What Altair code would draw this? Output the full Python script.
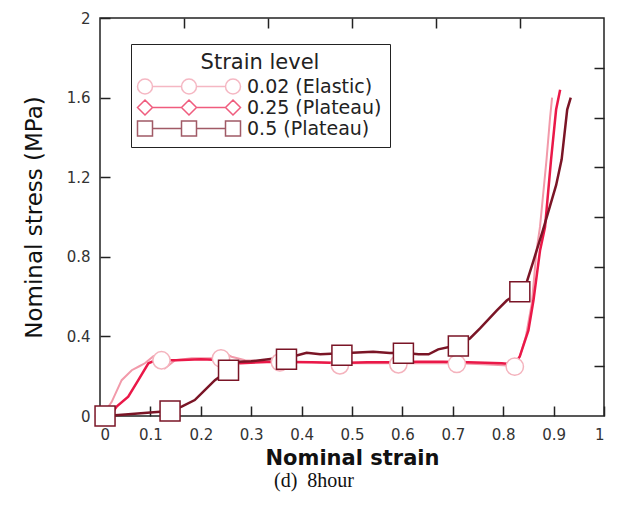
import altair as alt
import pandas as pd

# ---- data ----
series_names = ["0.02 (Elastic)", "0.25 (Plateau)", "0.5 (Plateau)"]

elastic_strain = [0.0, 0.012, 0.023, 0.043, 0.063, 0.078, 0.089, 0.106, 0.122, 0.129, 0.149,
                  0.182, 0.222, 0.241, 0.261, 0.288, 0.33, 0.38, 0.43, 0.476, 0.53, 0.592,
                  0.65, 0.708, 0.76, 0.80, 0.823, 0.833, 0.845, 0.857, 0.866, 0.873, 0.886,
                  0.893, 0.897]
elastic_stress = [0.0, 0.03, 0.07, 0.18, 0.23, 0.25, 0.265, 0.30, 0.28, 0.24, 0.28,
                  0.29, 0.29, 0.323, 0.298, 0.28, 0.275, 0.27, 0.27, 0.265, 0.265, 0.265,
                  0.265, 0.265, 0.26, 0.255, 0.25, 0.30, 0.40, 0.57, 0.83, 0.95, 1.29,
                  1.50, 1.60]

plateau25_strain = [0.02, 0.033, 0.056, 0.076, 0.096, 0.11, 0.15, 0.2, 0.25, 0.278, 0.344,
                    0.42, 0.476, 0.53, 0.575, 0.63, 0.68, 0.73, 0.797, 0.823, 0.833, 0.85,
                    0.86, 0.873, 0.883, 0.895, 0.905, 0.913]
plateau25_stress = [0.0, 0.047, 0.097, 0.18, 0.265, 0.28, 0.28, 0.285, 0.28, 0.265, 0.273,
                    0.27, 0.266, 0.27, 0.27, 0.273, 0.273, 0.27, 0.265, 0.26, 0.30, 0.43,
                    0.58, 0.83, 0.95, 1.29, 1.54, 1.64]

plateau5_strain = [0.01, 0.05, 0.1, 0.139, 0.162, 0.188, 0.208, 0.228, 0.255, 0.274, 0.3,
                   0.35, 0.37, 0.41, 0.437, 0.48, 0.542, 0.575, 0.602, 0.632, 0.652, 0.671,
                   0.711, 0.734, 0.754, 0.787, 0.807, 0.833, 0.847, 0.86, 0.879, 0.905,
                   0.916, 0.927, 0.934]
plateau5_stress = [0.0, 0.008, 0.018, 0.025, 0.047, 0.08, 0.13, 0.18, 0.23, 0.273, 0.275,
                   0.29, 0.29, 0.318, 0.31, 0.315, 0.323, 0.316, 0.318, 0.31, 0.31, 0.335,
                   0.357, 0.39, 0.44, 0.53, 0.58, 0.625, 0.675, 0.78, 0.935, 1.16,
                   1.29, 1.54, 1.60]

# marker positions
circle_strain = [0.008, 0.122, 0.24, 0.357, 0.476, 0.592, 0.708, 0.823]
circle_stress = [0.0, 0.28, 0.29, 0.27, 0.255, 0.26, 0.262, 0.248]
diamond_strain = [0.008, 0.122, 0.24, 0.357, 0.476, 0.592, 0.708, 0.823]
diamond_stress = [0.0, 0.28, 0.29, 0.27, 0.255, 0.26, 0.262, 0.248]
square_strain = [0.01, 0.139, 0.255, 0.37, 0.48, 0.602, 0.711, 0.833]
square_stress = [0.0, 0.025, 0.23, 0.285, 0.305, 0.315, 0.352, 0.625]

x_label_ticks = [0, 0.1, 0.2, 0.3, 0.4, 0.5, 0.6, 0.7, 0.8, 0.9, 1]
y_label_ticks = [0, 0.4, 0.8, 1.2, 1.6, 2]
x_top_ticks = [1 / 6, 2 / 6, 3 / 6, 4 / 6, 5 / 6]
y_right_ticks = [0.25, 0.5, 0.75, 1.0, 1.25, 1.5, 1.75]

# ---- styling ----
PINK = "#F29AAA"
PINK_MK = "#F4B3BD"
RED = "#EA1848"
DARK = "#7A1526"
FONT = "DejaVu Sans"
TICK = 10

def line_df(xs, ys):
    return pd.DataFrame({"strain": xs, "stress": ys, "i": list(range(len(xs)))})

xs = alt.Scale(domain=[0, 1], nice=False)
ys = alt.Scale(domain=[0, 2], nice=False)

def no_axis_x():
    return alt.X("strain:Q", scale=xs, axis=None)

def no_axis_y():
    return alt.Y("stress:Q", scale=ys, axis=None)

# pink line carries the labelled bottom/left axes
pink_line = alt.Chart(line_df(elastic_strain, elastic_stress)).mark_line(
    color=PINK, strokeWidth=2
).encode(
    x=alt.X("strain:Q", scale=xs, title="Nominal strain",
            axis=alt.Axis(orient="bottom", values=x_label_ticks, format="~g", ticks=False,
                          tickSize=0, domain=False, grid=False, labelPadding=11,
                          labelFontSize=15, labelColor="#333", labelFont=FONT,
                          titleFont=FONT, titleFontSize=21, titleFontWeight="bold",
                          titleColor="#111", titlePadding=5)),
    y=alt.Y("stress:Q", scale=ys, title="Nominal stress (MPa)",
            axis=alt.Axis(orient="left", values=y_label_ticks, format="~g", ticks=False,
                          tickSize=0, domain=False, grid=False, labelPadding=10,
                          labelFontSize=15, labelColor="#333", labelFont=FONT,
                          titleFont=FONT, titleFontSize=23, titleFontWeight="normal",
                          titleColor="#111", titlePadding=20)),
    order="i:Q",
)

# red line carries inward ticks on bottom/left
red_line = alt.Chart(line_df(plateau25_strain, plateau25_stress)).mark_line(
    color=RED, strokeWidth=2.5
).encode(
    x=alt.X("strain:Q", scale=xs, title=None,
            axis=alt.Axis(orient="bottom", values=x_label_ticks, labels=False, domain=False,
                          grid=False, tickSize=TICK, offset=-TICK, tickColor="#222",
                          tickWidth=1.5)),
    y=alt.Y("stress:Q", scale=ys, title=None,
            axis=alt.Axis(orient="left", values=y_label_ticks, labels=False, domain=False,
                          grid=False, tickSize=TICK, offset=-TICK, tickColor="#222",
                          tickWidth=1.5)),
    order="i:Q",
)

# dark line carries inward ticks on top/right
dark_line = alt.Chart(line_df(plateau5_strain, plateau5_stress)).mark_line(
    color=DARK, strokeWidth=2.5
).encode(
    x=alt.X("strain:Q", scale=xs, title=None,
            axis=alt.Axis(orient="top", values=x_top_ticks, labels=False, domain=False,
                          grid=False, tickSize=TICK, offset=-TICK, tickColor="#222",
                          tickWidth=1.5)),
    y=alt.Y("stress:Q", scale=ys, title=None,
            axis=alt.Axis(orient="right", values=y_right_ticks, labels=False, domain=False,
                          grid=False, tickSize=TICK, offset=-TICK, tickColor="#222",
                          tickWidth=1.5)),
    order="i:Q",
)

diamonds = alt.Chart(line_df(diamond_strain, diamond_stress)).mark_point(
    shape="diamond", size=250, filled=True, fill="white", stroke=RED, strokeWidth=1.5, opacity=1
).encode(x=no_axis_x(), y=no_axis_y())

circles = alt.Chart(line_df(circle_strain, circle_stress)).mark_point(
    shape="circle", size=300, filled=True, fill="white", fillOpacity=1, stroke=PINK_MK,
    strokeWidth=1.5, opacity=1
).encode(x=no_axis_x(), y=no_axis_y())

squares = alt.Chart(line_df(square_strain, square_stress)).mark_point(
    shape="square", size=400, filled=True, fill="white", stroke=DARK, strokeWidth=1.5, opacity=1
).encode(x=no_axis_x(), y=no_axis_y())

# ---- legend: custom symbol paths (line with three markers) ----
R = 7.5
CX = [-3.5, 40.5, 84.5]

def seg(a, b):
    return f"M{a},0L{b},0"

def circ(c):
    return f"M{c + R},0A{R},{R} 0 1,1 {c - R},0A{R},{R} 0 1,1 {c + R},0Z"

def diam(c):
    return f"M{c},{-R}L{c + R},0L{c},{R}L{c - R},0Z"

def sq(c):
    return f"M{c - R},{-R}L{c + R},{-R}L{c + R},{R}L{c - R},{R}Z"

def legend_path(marker):
    parts = [marker(c) for c in CX]
    parts += [seg(CX[k] + R, CX[k + 1] - R) for k in range(len(CX) - 1)]
    return "".join(parts)

legend_shapes = [legend_path(circ), legend_path(diam), legend_path(sq)]

leg = alt.Legend(title="Strain level", orient="none", legendX=31, legendY=26)
legend_df = pd.DataFrame({"series": series_names, "strain": [0.5] * 3, "stress": [1.0] * 3})
legend_layer = alt.Chart(legend_df).transform_filter("false").mark_point(
    filled=False, strokeWidth=1.5
).encode(
    x=no_axis_x(), y=no_axis_y(),
    color=alt.Color("series:N", scale=alt.Scale(domain=series_names, range=[PINK, RED, DARK]),
                    legend=leg),
    shape=alt.Shape("series:N", scale=alt.Scale(domain=series_names, range=legend_shapes),
                    legend=leg),
)

chart = alt.layer(
    pink_line, red_line, dark_line, diamonds, circles, squares, legend_layer
).resolve_scale(x="shared", y="shared").resolve_axis(
    x="independent", y="independent"
).properties(
    width=504, height=398,
    autosize=alt.AutoSizeParams(type="none"),
    padding={"left": 92, "top": 10, "right": 13, "bottom": 83},
    title=alt.TitleParams("(d)\u00a0\u00a08hour", orient="bottom", font="Liberation Serif",
                          fontSize=20, fontWeight="normal", color="#111", offset=3,
                          anchor="middle", dx=-38),
).configure_view(
    stroke="#222", strokeWidth=1.5
).configure_legend(
    symbolSize=4, symbolStrokeWidth=1.5, labelFont=FONT, labelFontSize=19, labelColor="#222",
    titleFont=FONT, titleFontSize=21, titleFontWeight="normal", titleColor="#222",
    titleAnchor="middle", titleAlign="center", labelOffset=89, rowPadding=0,
    strokeColor="#222", fillColor="white", padding=8, titlePadding=4,
)

chart.save("out.html", embed_options={"renderer": "svg", "actions": False})
